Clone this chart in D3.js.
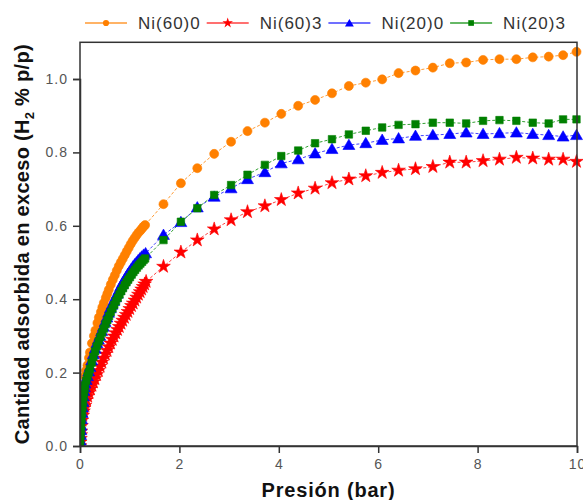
<!DOCTYPE html>
<html>
<head>
<meta charset="utf-8">
<script src="https://cdn.jsdelivr.net/npm/d3@7"></script>
<style>
  html, body { margin: 0; padding: 0; background: #fff; }
  svg { display: block; font-family: "Liberation Sans", Arial, sans-serif; }
</style>
</head>
<body>
<svg id="chart" width="583" height="500"></svg>
<script>
// Excess H2 uptake isotherms (wt %) versus pressure (bar)

const seriesNames = ["Ni(60)0", "Ni(60)3", "Ni(20)0", "Ni(20)3"];

// low-pressure, densely sampled part of each isotherm
const lowP_Ni600 = [0, 0.005, 0.01, 0.015, 0.02, 0.03, 0.04, 0.05, 0.06, 0.08, 0.10, 0.12, 0.15, 0.18, 0.20, 0.24, 0.28, 0.31, 0.35, 0.38, 0.42, 0.45, 0.48, 0.52, 0.55, 0.58, 0.62, 0.66, 0.70, 0.74, 0.78, 0.82, 0.86, 0.90, 0.94, 0.98, 1.02, 1.06, 1.10, 1.14, 1.18, 1.22, 1.25, 1.28, 1.31];
const lowV_Ni600 = [0, 0.018, 0.035, 0.05, 0.065, 0.09, 0.11, 0.125, 0.14, 0.167, 0.19, 0.205, 0.22, 0.24, 0.255, 0.28, 0.30, 0.315, 0.335, 0.35, 0.365, 0.378, 0.39, 0.404, 0.415, 0.426, 0.44, 0.453, 0.465, 0.478, 0.49, 0.50, 0.51, 0.52, 0.53, 0.54, 0.55, 0.559, 0.567, 0.575, 0.582, 0.588, 0.593, 0.598, 0.602];

const lowP_Ni603 = [0, 0.005, 0.01, 0.015, 0.02, 0.03, 0.04, 0.055, 0.07, 0.085, 0.10, 0.13, 0.155, 0.18, 0.21, 0.24, 0.27, 0.30, 0.335, 0.37, 0.405, 0.44, 0.475, 0.51, 0.545, 0.58, 0.615, 0.65, 0.685, 0.72, 0.755, 0.79, 0.825, 0.86, 0.895, 0.93, 0.965, 1.00, 1.035, 1.07, 1.105, 1.14, 1.175, 1.21, 1.24, 1.27, 1.30, 1.33];
const lowV_Ni603 = [0, 0.01, 0.02, 0.03, 0.04, 0.055, 0.07, 0.083, 0.095, 0.103, 0.11, 0.125, 0.135, 0.145, 0.155, 0.165, 0.174, 0.183, 0.194, 0.205, 0.217, 0.228, 0.239, 0.25, 0.26, 0.27, 0.28, 0.29, 0.299, 0.308, 0.317, 0.325, 0.334, 0.342, 0.35, 0.358, 0.366, 0.374, 0.382, 0.389, 0.397, 0.405, 0.413, 0.42, 0.427, 0.434, 0.441, 0.448];

const lowP_Ni200 = [0, 0.005, 0.01, 0.015, 0.02, 0.03, 0.04, 0.05, 0.06, 0.07, 0.08, 0.09, 0.10, 0.125, 0.15, 0.175, 0.20, 0.235, 0.27, 0.305, 0.34, 0.37, 0.40, 0.435, 0.47, 0.505, 0.54, 0.575, 0.61, 0.645, 0.68, 0.715, 0.75, 0.785, 0.82, 0.855, 0.89, 0.925, 0.96, 0.995, 1.03, 1.065, 1.10, 1.135, 1.17, 1.205, 1.24, 1.28, 1.32];
const lowV_Ni200 = [0, 0.015, 0.03, 0.043, 0.055, 0.073, 0.09, 0.105, 0.12, 0.135, 0.15, 0.16, 0.17, 0.18, 0.19, 0.203, 0.215, 0.233, 0.25, 0.265, 0.28, 0.29, 0.30, 0.313, 0.325, 0.338, 0.35, 0.363, 0.375, 0.385, 0.395, 0.405, 0.415, 0.425, 0.435, 0.444, 0.452, 0.46, 0.468, 0.475, 0.482, 0.489, 0.495, 0.5, 0.506, 0.511, 0.516, 0.521, 0.525];

const lowP_Ni203 = [0, 0.005, 0.01, 0.015, 0.02, 0.03, 0.04, 0.05, 0.06, 0.07, 0.08, 0.09, 0.10, 0.125, 0.15, 0.175, 0.20, 0.235, 0.27, 0.305, 0.34, 0.375, 0.41, 0.445, 0.48, 0.515, 0.55, 0.585, 0.62, 0.655, 0.69, 0.725, 0.76, 0.795, 0.83, 0.865, 0.90, 0.935, 0.97, 1.005, 1.04, 1.075, 1.11, 1.145, 1.18, 1.215, 1.25, 1.28, 1.31];
const lowV_Ni203 = [0, 0.015, 0.03, 0.043, 0.055, 0.073, 0.09, 0.105, 0.12, 0.133, 0.145, 0.155, 0.165, 0.178, 0.19, 0.2, 0.21, 0.227, 0.243, 0.258, 0.272, 0.285, 0.297, 0.309, 0.32, 0.332, 0.343, 0.354, 0.365, 0.375, 0.385, 0.395, 0.404, 0.413, 0.422, 0.43, 0.438, 0.446, 0.453, 0.46, 0.467, 0.474, 0.48, 0.486, 0.492, 0.497, 0.502, 0.507, 0.511];

// higher-pressure steps, common to all four samples
const highP = [1.68, 2.03, 2.36, 2.70, 3.04, 3.37, 3.72, 4.05, 4.39, 4.73, 5.07, 5.41, 5.75, 6.08, 6.41, 6.75, 7.10, 7.44, 7.77, 8.11, 8.44, 8.78, 9.11, 9.43, 9.72, 9.99];
const highV_Ni600 = [0.659, 0.716, 0.757, 0.796, 0.829, 0.858, 0.881, 0.905, 0.927, 0.943, 0.961, 0.981, 0.990, 0.999, 1.016, 1.023, 1.031, 1.043, 1.045, 1.052, 1.054, 1.054, 1.059, 1.061, 1.065, 1.074];
const highV_Ni603 = [0.489, 0.528, 0.561, 0.591, 0.616, 0.638, 0.654, 0.671, 0.689, 0.702, 0.717, 0.727, 0.736, 0.745, 0.751, 0.755, 0.761, 0.773, 0.773, 0.777, 0.781, 0.786, 0.784, 0.781, 0.781, 0.775];
const highV_Ni200 = [0.575, 0.610, 0.650, 0.679, 0.702, 0.727, 0.746, 0.770, 0.781, 0.797, 0.809, 0.820, 0.825, 0.834, 0.838, 0.845, 0.847, 0.850, 0.854, 0.850, 0.852, 0.854, 0.850, 0.847, 0.843, 0.847];
const highV_Ni203 = [0.561, 0.611, 0.648, 0.684, 0.711, 0.739, 0.766, 0.790, 0.805, 0.825, 0.836, 0.849, 0.859, 0.868, 0.875, 0.877, 0.881, 0.881, 0.879, 0.886, 0.888, 0.886, 0.881, 0.879, 0.890, 0.890];

const xTicks = [0, 2, 4, 6, 8, 10];
const yTicks = [0.0, 0.2, 0.4, 0.6, 0.8, 1.0];

const pairs = (ps, vs) => ps.map((p, i) => ({ p, v: vs[i] }));
const series = [
  { name: seriesNames[0], color: "#ff8000", line: "#ff9a33", shape: d3.symbolCircle,   size: 64, lsize: 30,
    pts: pairs(lowP_Ni600, lowV_Ni600).concat(pairs(highP, highV_Ni600)) },
  { name: seriesNames[1], color: "#ff0000", line: "#ff4040", shape: d3.symbolStar,     size: 58, lsize: 34,
    pts: pairs(lowP_Ni603, lowV_Ni603).concat(pairs(highP, highV_Ni603)) },
  { name: seriesNames[2], color: "#0000ff", line: "#4040ff", shape: d3.symbolTriangle, size: 62, lsize: 34,
    pts: pairs(lowP_Ni200, lowV_Ni200).concat(pairs(highP, highV_Ni200)) },
  { name: seriesNames[3], color: "#008000", line: "#33a033", shape: d3.symbolSquare,   size: 56, lsize: 32,
    pts: pairs(lowP_Ni203, lowV_Ni203).concat(pairs(highP, highV_Ni203)) }
];

const svg = d3.select("#chart");
const left = 80, right = 577, bottom = 446;
const x = d3.scaleLinear().domain([0, 10]).range([left, right]);
const y = d3.scaleLinear().domain([0, 1]).range([bottom, 79]);
const plotTop = y(1.1);

// plot area clip so markers at the edges are trimmed by the frame
svg.append("defs").append("clipPath").attr("id", "plotClip")
  .append("rect").attr("x", left).attr("y", plotTop).attr("width", right - left + 6).attr("height", bottom - plotTop);

const plot = svg.append("g").attr("clip-path", "url(#plotClip)");

const line = d3.line().x(d => x(d.p)).y(d => y(d.v));

series.forEach(s => {
  plot.append("path")
    .attr("d", line(s.pts))
    .attr("fill", "none")
    .attr("stroke", s.line)
    .attr("stroke-width", 1)
    .attr("stroke-dasharray", "3,2");
});

series.forEach(s => {
  const sym = d3.symbol().type(s.shape).size(s.size);
  plot.append("g").selectAll("path")
    .data(s.pts)
    .join("path")
    .attr("d", sym)
    .attr("transform", d => `translate(${x(d.p)},${y(d.v) + (s.shape === d3.symbolTriangle ? 1 : 0)})`)
    .attr("fill", s.color)
    .attr("stroke", s.color)
    .attr("stroke-width", 0.6);
});

// frame
svg.append("rect")
  .attr("x", left).attr("y", plotTop)
  .attr("width", right - left).attr("height", bottom - plotTop)
  .attr("fill", "none").attr("stroke", "#333").attr("stroke-width", 1.5);

// axes
const xAxis = d3.axisBottom(x).tickValues(xTicks).tickSize(7).tickPadding(6).tickFormat(d3.format("d"));
const yAxis = d3.axisLeft(y).tickValues(yTicks).tickSize(7).tickPadding(5).tickFormat(d3.format(".1f"));

const gx = svg.append("g").attr("transform", `translate(0,${bottom})`).call(xAxis);
const gy = svg.append("g").attr("transform", `translate(${left},0)`).call(yAxis);
[gx, gy].forEach(g => {
  g.select(".domain").attr("stroke", "#333").attr("stroke-width", 1.5);
  g.selectAll(".tick line").attr("stroke", "#333").attr("stroke-width", 1.5);
  g.selectAll(".tick text")
    .attr("fill", "#555")
    .style("font-size", "14px")
    .style("letter-spacing", "1px")
    .style("font-family", "'Liberation Sans', Arial, sans-serif");
});

// axis titles
svg.append("text")
  .attr("x", (left + right) / 2).attr("y", 497)
  .attr("text-anchor", "middle")
  .style("font-size", "20px").style("font-weight", "bold").style("letter-spacing", "0.8px")
  .attr("fill", "#111")
  .text("Presión (bar)");

const yt = svg.append("text")
  .attr("transform", `translate(29,${(plotTop + bottom) / 2}) rotate(-90)`)
  .attr("text-anchor", "middle")
  .style("font-size", "20px").style("font-weight", "bold").style("letter-spacing", "0.3px")
  .attr("fill", "#111");
yt.append("tspan").text("Cantidad adsorbida en exceso (H");
yt.append("tspan").text("2").style("font-size", "13px").attr("dy", 5);
yt.append("tspan").text(" % p/p)").attr("dy", -5);

// legend
const legend = svg.append("g");
series.forEach((s, i) => {
  const x0 = 85 + i * 121.7;
  const g = legend.append("g").attr("transform", `translate(${x0},23)`);
  g.append("line").attr("x1", 0).attr("x2", 42).attr("y1", 0).attr("y2", 0)
    .attr("stroke", s.line).attr("stroke-width", 1.5);
  g.append("path").attr("d", d3.symbol().type(s.shape).size(s.lsize)())
    .attr("transform", `translate(21,${s.shape === d3.symbolTriangle ? 1 : 0})`)
    .attr("fill", s.color);
  g.append("text").attr("x", 53).attr("y", 6)
    .style("font-size", "17px").style("letter-spacing", "1px")
    .attr("fill", "#333")
    .text(s.name);
});
</script>
</body>
</html>
